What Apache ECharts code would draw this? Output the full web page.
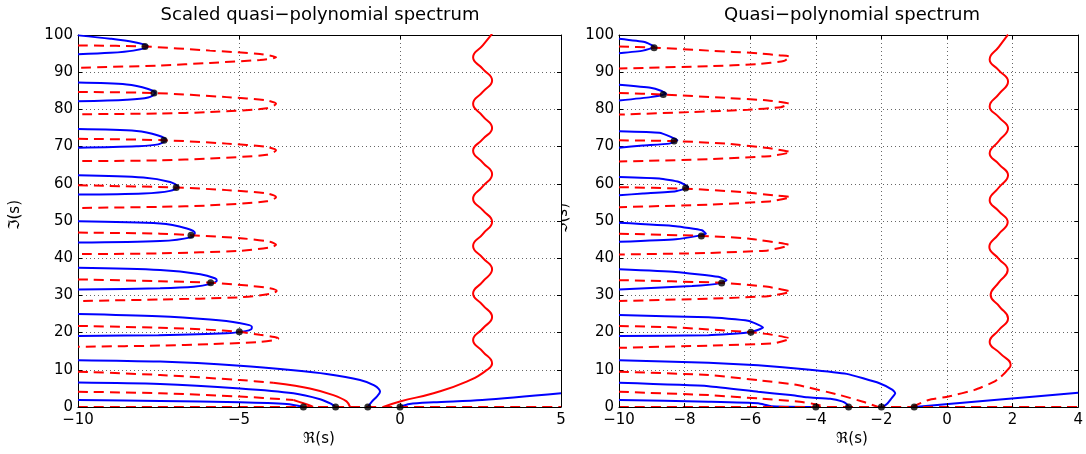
<!DOCTYPE html>
<html><head><meta charset="utf-8">
<script src="https://cdn.jsdelivr.net/npm/echarts@6/dist/echarts.min.js"></script>
<style>html,body{margin:0;padding:0;background:#fff}#c{width:1086px;height:454px}</style>
</head><body><div id="c"></div>
<script>
// ---------- Left panel: scaled quasi-polynomial spectrum ----------
const L_xTicks = [-10, 5, 5];            // min, max, interval
const R_xTicks = [-10, 4, 2];
const Y_ticks = [0, 100, 10];

const L_blueLoop1 = [[-10,99.9],[-9,99.0],[-8.28,98.1],[-7.82,96.9],[-8.28,95.8],[-9,95.2],[-10,94.8]];
const L_blueLoop2 = [[-10,87.2],[-8.49,86.7],[-7.82,85.5],[-7.6,84.4],[-7.82,83.2],[-8.49,82.6],[-10,82.2]];
const L_blueLoop3 = [[-10,74.7],[-8.18,74.2],[-7.51,73.0],[-7.27,71.8],[-7.51,70.6],[-8.18,70.1],[-10,69.7]];
const L_blueLoop4 = [[-10,62.3],[-7.97,61.7],[-7.14,60.5],[-6.89,59.2],[-7.14,58.1],[-7.97,57.4],[-10,57.1]];
const L_blueLoop5 = [[-10,49.9],[-7.45,49.3],[-6.62,48.0],[-6.37,46.8],[-6.5,45.6],[-7.45,44.6],[-10,44.2]];
const L_blueLoop6 = [[-10,37.4],[-7.45,36.8],[-6.2,35.7],[-5.75,34.6],[-5.69,34.0],[-5.88,33.1],[-6.4,32.3],[-7.45,31.9],[-10,31.6]];
const L_blueLoop7 = [[-10,25.0],[-7.5,24.4],[-5.9,23.5],[-5.0,22.6],[-4.6,21.6],[-4.62,20.9],[-4.8,20.4],[-5.4,19.8],[-7.5,19.3],[-10,19.1]];
const L_blueA = [[-10,12.6],[-7.45,12.2],[-4.97,11.1],[-3.31,9.9],[-2.28,8.9],[-1.24,7.25],[-0.8,5.8],[-0.62,4.1],[-0.72,2.8],[-0.88,1.4],[-1.0,0]];
const L_blueB = [[-10,6.6],[-7.45,6.2],[-4.97,5.0],[-3.31,3.7],[-2.48,2.1],[-2.15,0.9],[-2.0,0]];
const L_blueC = [[-10,1.9],[-7.45,1.6],[-4.97,1.3],[-3.52,0.8],[-3.0,0]];
const L_blueD = [[0,0],[0.3,0.8],[1.04,1.25],[2.55,1.9],[5,3.7]];

const L_redLoop1 = [[-10,97.2],[-7.92,96.9],[-5.9,95.8],[-4.35,94.9],[-3.85,94.0],[-4.35,93.3],[-5.9,92.5],[-7.45,91.8],[-10,91.2]];
const L_redLoop2 = [[-10,84.7],[-7.64,84.4],[-5.38,83.3],[-4.14,82.4],[-3.85,81.5],[-4.14,80.3],[-5.9,79.3],[-7.45,78.9],[-10,78.7]];
const L_redLoop3 = [[-10,72.1],[-7.33,71.7],[-5.38,70.8],[-4.14,69.9],[-3.85,69.0],[-4.14,67.8],[-5.9,66.8],[-7.45,66.3],[-10,66.1]];
const L_redLoop4 = [[-10,59.6],[-6.95,59.0],[-5.38,58.3],[-4.14,57.4],[-3.85,56.4],[-4.14,55.3],[-5.9,54.2],[-7.45,53.8],[-10,53.5]];
const L_redLoop5 = [[-10,46.9],[-7.45,46.6],[-6.49,46.2],[-4.87,45.3],[-4.04,44.4],[-3.85,43.6],[-4.04,42.9],[-4.97,42.0],[-7.45,41.3],[-10,41.1]];
const L_redLoop6 = [[-10,34.3],[-7.45,33.8],[-5.88,33.4],[-4.56,32.5],[-4.04,31.9],[-3.83,31.2],[-4.04,30.4],[-4.97,29.5],[-7.45,28.9],[-10,28.5]];
const L_redLoop7 = [[-10,21.8],[-7.45,21.3],[-6.0,20.8],[-4.99,20.2],[-4.35,19.4],[-3.9,18.8],[-3.78,18.4],[-3.9,18.0],[-4.35,17.5],[-5.9,16.9],[-7.45,16.5],[-10,16.2]];
const L_red1Dash = [[-10,9.5],[-7.45,8.6],[-4.97,7.25],[-3.94,6.5]];
const L_red1Solid = [[-3.94,6.5],[-2.8,5.0],[-2.07,3.2],[-1.66,1.5],[-1.55,0]];
const L_red2Dash = [[-10,4.1],[-7.45,3.7],[-4.97,2.8],[-3.31,1.9]];
const L_red2Solid = [[-3.31,1.9],[-3.0,1.0],[-2.8,0.4],[-2.7,0]];
const L_redZero = [[-10,0],[5,0]];
const L_redWave = [[-0.52,0],[0,1.5],[1.04,3.7],[2.07,6.8],[2.69,9.9],[2.86,11.7],[2.57,14.9],[2.27,18.0],[2.57,21.1],[2.86,24.2],[2.57,27.4],[2.27,30.5],[2.57,33.7],[2.86,37.0],[2.57,40.1],[2.27,43.3],[2.57,46.5],[2.86,49.8],[2.57,52.9],[2.27,56.0],[2.57,59.3],[2.86,62.6],[2.57,65.7],[2.27,68.9],[2.57,72.0],[2.86,75.0],[2.57,78.2],[2.27,81.5],[2.57,84.7],[2.86,87.8],[2.57,90.9],[2.27,94.0],[2.57,97.2],[2.86,100.3]];
const L_roots = [[-7.92,96.9],[-7.64,84.4],[-7.33,71.7],[-6.95,59.0],[-6.49,46.2],[-5.88,33.4],[-4.99,20.2],[-3,0],[-2,0],[-1,0],[0,0]];

// ---------- Right panel: quasi-polynomial spectrum ----------
const R_blueLoop1 = [[-10,99.0],[-9.22,98.1],[-8.92,96.8],[-9.27,95.8],[-10,95.1]];
const R_blueLoop2 = [[-10,86.6],[-9.04,85.8],[-8.72,85.0],[-8.56,84.2],[-9.04,83.3],[-10,82.4]];
const R_blueLoop3 = [[-10,74.1],[-8.77,73.7],[-8.42,72.6],[-8.22,71.7],[-8.47,70.8],[-9.27,70.3],[-10,69.7]];
const R_blueLoop4 = [[-10,61.8],[-8.77,61.4],[-8.17,60.5],[-7.89,59.1],[-8.27,58.0],[-9.27,57.4],[-10,56.9]];
const R_blueLoop5 = [[-10,49.5],[-8.27,48.6],[-7.47,47.5],[-7.35,46.6],[-7.6,46.0],[-8.27,45.1],[-10,44.4]];
const R_blueLoop6 = [[-10,37.0],[-8.27,36.3],[-6.97,35.0],[-6.72,34.1],[-6.9,33.3],[-7.77,32.5],[-10,31.6]];
const R_blueLoop7 = [[-10,24.7],[-7.27,24.1],[-6.07,23.2],[-5.61,21.4],[-5.98,20.1],[-7.27,19.3],[-10,19.1]];
const R_blueA = [[-10,12.6],[-7.27,11.9],[-5.76,11.2],[-4.26,10.1],[-3.06,8.9],[-2.06,6.4],[-1.66,4.6],[-1.58,3.7],[-1.71,2.1],[-1.81,1.0],[-1.95,0]];
const R_blueB = [[-10,6.5],[-7.27,5.6],[-5.76,4.1],[-4.77,3.2],[-4.26,2.6],[-3.56,2.2],[-3.2,1.5],[-3.06,0.8],[-3.0,0]];
const R_blueC = [[-10,1.9],[-7.27,1.4],[-5.76,1.0],[-5.36,0.2],[-4.0,0]];
const R_blueD = [[-1,0],[0.04,0.8],[1.44,1.9],[4,3.8]];

const R_redLoop1 = [[-10,96.9],[-8.93,96.6],[-7.27,95.8],[-5.76,95.1],[-5.07,94.5],[-4.78,94.2],[-4.98,93.0],[-5.76,92.2],[-7.27,91.6],[-10,91.0]];
const R_redLoop2 = [[-10,84.4],[-8.65,84.0],[-6.76,83.1],[-5.46,82.4],[-4.81,81.5],[-5.07,80.6],[-6.07,79.9],[-7.77,79.3],[-10,78.6]];
const R_redLoop3 = [[-10,71.7],[-8.32,71.5],[-6.76,70.8],[-5.46,69.6],[-4.77,68.5],[-5.36,67.5],[-7.27,66.6],[-10,66.0]];
const R_redLoop4 = [[-10,59.1],[-7.97,58.7],[-6.27,57.8],[-5.27,56.9],[-4.77,56.4],[-5.36,55.3],[-7.27,54.4],[-10,53.7]];
const R_redLoop5 = [[-10,46.6],[-7.49,46.0],[-6.07,45.3],[-4.81,43.5],[-5.46,42.1],[-7.27,41.4],[-10,41.0]];
const R_redLoop6 = [[-10,34.1],[-6.87,33.4],[-5.46,32.3],[-4.77,31.0],[-5.46,29.8],[-7.27,29.1],[-10,28.5]];
const R_redLoop7 = [[-10,21.8],[-8.27,21.4],[-5.98,20.1],[-5.46,19.6],[-4.78,18.4],[-5.27,17.1],[-7.27,16.5],[-10,15.9]];
const R_red1 = [[-10,9.5],[-7.27,8.6],[-5.76,7.2],[-4.56,5.9],[-3.26,3.2],[-2.56,1.4],[-2.1,0]];
const R_red2 = [[-10,4.1],[-7.27,3.2],[-5.76,2.3],[-4.56,1.5],[-4.1,0.9],[-3.85,0.4]];
const R_redZero = [[-10,0],[4,0]];
const R_redWaveDash = [[-1.07,0],[-0.56,1.9],[0.04,2.8],[0.84,4.6],[1.44,6.8],[1.65,8.2]];
const R_redWave = [[1.65,8.2],[1.84,9.9],[1.94,11.3],[1.62,14.4],[1.3,17.5],[1.58,20.7],[1.86,23.8],[1.6,27.0],[1.33,30.1],[1.58,33.5],[1.85,36.8],[1.57,39.9],[1.29,43.0],[1.57,46.4],[1.85,49.7],[1.57,52.7],[1.3,55.6],[1.58,59.0],[1.86,62.3],[1.58,65.3],[1.3,68.2],[1.58,71.5],[1.86,74.9],[1.58,77.9],[1.3,80.8],[1.58,84.1],[1.86,87.5],[1.58,90.5],[1.3,93.4],[1.58,96.8],[1.86,100.1]];
const R_roots = [[-8.93,96.6],[-8.65,84.0],[-8.32,71.5],[-7.97,58.9],[-7.49,46.0],[-6.87,33.3],[-5.98,20.1],[-4,0],[-3,0],[-2,0],[-1,0]];

const TITLES = ['Scaled quasi\u2212polynomial spectrum', 'Quasi\u2212polynomial spectrum'];
const XNAME = '\u211C(s)';
const YNAME = '\u2111(s)';

// ---------- build ----------
const FONT = 'DejaVu Sans';
const BLUE = '#0000ff', RED = '#ff0000';
const fmt = v => (v < 0 ? '\u2212' + Math.abs(v) : String(v));

function xAxes(g, t) {
  const base = {type:'value', gridIndex:g, min:t[0], max:t[1], interval:t[2]};
  return [
    Object.assign({}, base, {position:'bottom', z:3,
      axisLine:{show:true, onZero:false, lineStyle:{color:'#000', width:1}},
      axisTick:{show:true, inside:true, length:4, lineStyle:{color:'#000'}},
      axisLabel:{show:true, color:'#000', fontFamily:FONT, fontSize:15, margin:6, formatter:fmt, showMinLabel:true, showMaxLabel:true},
      splitLine:{show:false}}),
    Object.assign({}, base, {position:'top', z:0,
      axisLine:{show:true, onZero:false, lineStyle:{color:'#000', width:1}},
      axisTick:{show:true, inside:true, length:4, lineStyle:{color:'#000'}},
      axisLabel:{show:false},
      splitLine:{show:true, lineStyle:{color:'#666', type:[1,3], width:1}}})
  ];
}
function yAxes(g, t) {
  const base = {type:'value', gridIndex:g, min:t[0], max:t[1], interval:t[2]};
  return [
    Object.assign({}, base, {position:'left', z:0,
      axisLine:{show:true, onZero:false, lineStyle:{color:'#000', width:1}},
      axisTick:{show:true, inside:true, length:4, lineStyle:{color:'#000'}},
      axisLabel:{show:true, color:'#000', fontFamily:FONT, fontSize:15, margin:5, formatter:fmt, showMinLabel:true, showMaxLabel:true},
      splitLine:{show:true, lineStyle:{color:'#666', type:[1,3], width:1}}}),
    Object.assign({}, base, {position:'right', z:0,
      axisLine:{show:true, onZero:false, lineStyle:{color:'#000', width:1}},
      axisTick:{show:true, inside:true, length:4, lineStyle:{color:'#000'}},
      axisLabel:{show:false}, splitLine:{show:false}})
  ];
}
function line(data, g, color, dashed, smooth) {
  return {type:'line', xAxisIndex:g*2, yAxisIndex:g*2, data:data, symbol:'none', showSymbol:false,
    smooth: smooth || false, silent:true, animation:false, z:2,
    lineStyle:{color:color, width:2, type: dashed ? [10,6] : 'solid'}};
}
function dots(data, g) {
  return {type:'scatter', xAxisIndex:g*2, yAxisIndex:g*2, data:data, symbol:'circle', symbolSize:7,
    itemStyle:{color:'#000'}, clip:false, silent:true, animation:false, z:4};
}

const series = [];
// left
[L_blueLoop1,L_blueLoop2,L_blueLoop3,L_blueLoop4,L_blueLoop5,L_blueLoop6,L_blueLoop7,L_blueA,L_blueB,L_blueC,L_blueD]
  .forEach(d => series.push(line(d, 0, BLUE, false, 0.3)));
[L_redLoop1,L_redLoop2,L_redLoop3,L_redLoop4,L_redLoop5,L_redLoop6,L_redLoop7,L_red1Dash,L_red2Dash,L_redZero]
  .forEach(d => series.push(line(d, 0, RED, true, 0.3)));
[L_red1Solid,L_red2Solid].forEach(d => series.push(line(d, 0, RED, false, 0.3)));
series.push(line(L_redWave, 0, RED, false, 0.5));
series.push(dots(L_roots, 0));
// right
[R_blueLoop1,R_blueLoop2,R_blueLoop3,R_blueLoop4,R_blueLoop5,R_blueLoop6,R_blueLoop7,R_blueA,R_blueB,R_blueC,R_blueD]
  .forEach(d => series.push(line(d, 1, BLUE, false, 0.15)));
[R_redLoop1,R_redLoop2,R_redLoop3,R_redLoop4,R_redLoop5,R_redLoop6,R_redLoop7,R_red1,R_red2,R_redZero,R_redWaveDash]
  .forEach(d => series.push(line(d, 1, RED, true, 0.15)));
series.push(line(R_redWave, 1, RED, false, 0.5));
series.push(dots(R_roots, 1));

function txt(x, y, s, size, rot, z) {
  const o = {type:'text', x:x, y:y, rotation:rot || 0, silent:true,
    style:{text:s, fill:'#000', fontFamily:FONT, fontSize:size, align:'center', verticalAlign:'middle',
           textAlign:'center', textVerticalAlign:'middle'}};
  if (z !== undefined) o.z = z;
  return o;
}

const option = {
  backgroundColor:'#fff',
  animation:false,
  grid:[
    {left:78, right:525, top:35, bottom:47, show:true, backgroundColor:'#fff', borderWidth:0},
    {left:619, right:1, top:35, bottom:47, show:false}
  ],
  xAxis: xAxes(0, L_xTicks).concat(xAxes(1, R_xTicks)),
  yAxis: yAxes(0, Y_ticks).concat(yAxes(1, Y_ticks)),
  series: series,
  graphic: [
    txt(320, 15, TITLES[0], 18),
    txt(852, 15, TITLES[1], 18),
    txt(319, 439, XNAME, 15),
    txt(852, 439, XNAME, 15),
    txt(15, 215, YNAME, 15, Math.PI/2),
    txt(563, 218, YNAME, 15, Math.PI/2, -1)
  ]
};
const chart = echarts.init(document.getElementById('c'), null, {renderer:'canvas'});
chart.setOption(option);
</script></body></html>
